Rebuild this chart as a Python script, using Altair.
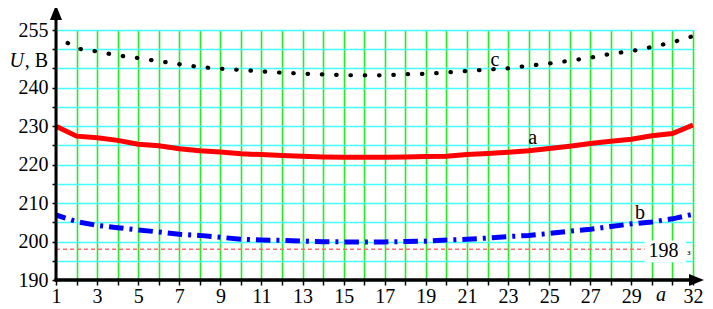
import altair as alt
import pandas as pd

# ---- data ----
x_vals = list(range(1, 33))
a_vals = [230.0, 227.4, 227.0, 226.3, 225.3, 224.9, 224.1, 223.6, 223.3, 222.8,
          222.6, 222.4, 222.2, 222.0, 221.9, 221.9, 221.9, 222.0, 222.1, 222.2,
          222.6, 222.9, 223.2, 223.6, 224.2, 224.8, 225.5, 226.1, 226.6, 227.5,
          228.1, 230.3]
b_vals = [206.9, 205.2, 204.2, 203.6, 203.0, 202.5, 201.9, 201.6, 201.1, 200.6,
          200.4, 200.3, 200.1, 199.95, 199.9, 199.9, 199.9, 200.0, 200.1, 200.4,
          200.6, 200.9, 201.3, 201.6, 202.1, 202.7, 203.2, 203.9, 204.6, 205.1,
          205.9, 207.1]
c_vals = [253.5, 250.2, 249.4, 248.4, 247.7, 246.9, 246.1, 245.35, 244.95, 244.6,
          244.25, 243.9, 243.65, 243.45, 243.25, 243.22, 243.22, 243.5, 243.6, 243.95,
          244.35, 244.7, 245.05, 245.7, 246.3, 247.0, 247.8, 248.8, 249.5, 250.6,
          251.8, 253.4]
limit_value = 198
x_tick_labels = [1, 3, 5, 7, 9, 11, 13, 15, 17, 19, 21, 23, 25, 27, 29, 32]
y_grid_values = list(range(190, 256, 5))
y_tick_labels = [190, 200, 210, 220, 230, 240, 255]

curve_labels = pd.DataFrame({
    "x": [24.2, 29.42, 22.36],
    "y": [226.9, 207.4, 247.2],
    "t": ["a", "b", "c"],
})

W, H = 637, 250
FONT = "Liberation Serif"

df = pd.DataFrame({"x": x_vals, "a": a_vals, "b": b_vals, "c": c_vals})

xs = alt.Scale(domain=[1, 32], nice=False, zero=False)
ys = alt.Scale(domain=[190, 255], nice=False, zero=False)

x_expr = "(" + " || ".join("datum.value == %d" % v for v in x_tick_labels) + ") ? datum.value : ''"
y_expr = "(" + " || ".join("datum.value == %d" % v for v in y_tick_labels) + ") ? datum.value : ''"

x_axis = alt.Axis(values=x_vals, labelExpr=x_expr, grid=True, gridColor="#22ee22",
                  gridWidth=1.6, domain=False, tickColor="black", tickWidth=1.5,
                  tickSize=5, labelFont=FONT, labelFontSize=20, labelColor="black",
                  labelPadding=1, labelOverlap=False, labelFlush=False, title=None)
y_axis = alt.Axis(values=y_grid_values, labelExpr=y_expr, grid=True, gridColor="#44ffff",
                  gridWidth=1.6, domain=False, tickColor="black", tickWidth=1.5,
                  tickSize=4, labelFont=FONT, labelFontSize=20, labelColor="black",
                  labelPadding=4, labelOverlap=False, labelFlush=False, title=None)


def X(field):
    return alt.X(field, type="quantitative", scale=xs, axis=x_axis)


def Y(field):
    return alt.Y(field, type="quantitative", scale=ys, axis=y_axis)


base = alt.Chart(df)

line_a = base.mark_line(color="#ff0000", strokeWidth=5).encode(x=X("x"), y=Y("a"))
line_b = base.mark_line(color="#0000ff", strokeWidth=5, strokeDash=[14.5, 6, 3, 6],
                        strokeDashOffset=4.5).encode(x=X("x"), y=Y("b"))
line_c = base.mark_line(color="black", strokeWidth=4.2, strokeDash=[0.5, 13.8],
                        strokeCap="round", strokeDashOffset=0.6).encode(x=X("x"), y=Y("c"))

limit_rule = alt.Chart(pd.DataFrame({"x": [1], "x2": [29.65], "y": [limit_value]})).mark_rule(
    color="#ff6a6a", strokeDash=[4, 3], strokeWidth=1.3).encode(
    x=X("x"), x2="x2:Q", y=Y("y"))
white_box = alt.Chart(pd.DataFrame({"x": [29.65], "x2": [31.65], "y": [194.6], "y2": [200.3]})).mark_rect(
    fill="white").encode(x=X("x"), x2="x2:Q", y=Y("y"), y2="y2:Q")
limit_text = alt.Chart(pd.DataFrame({"x": [30.56], "y": [197.67], "t": [str(limit_value)]})).mark_text(
    font=FONT, fontSize=20, color="black", baseline="middle", align="center").encode(
    x=X("x"), y=Y("y"), text="t:N")
small_mark = alt.Chart(pd.DataFrame({"x": [31.8], "y": [197.4], "t": ["з"]})).mark_text(
    font=FONT, fontSize=9, color="black", baseline="middle", align="center").encode(
    x=X("x"), y=Y("y"), text="t:N")

curve_text = alt.Chart(curve_labels).mark_text(
    font=FONT, fontSize=20, color="black", baseline="middle", align="center").encode(
    x=X("x"), y=Y("y"), text="t:N")

axis_letter = alt.Chart(pd.DataFrame({"x": [30.44], "t": ["a"]})).mark_text(
    font=FONT, fontSize=20, fontStyle="italic", color="black", baseline="alphabetic",
    align="center").encode(x=X("x"), y=alt.value(H + 21), text="t:N")

u_label = alt.Chart(pd.DataFrame({"t": ["U"]})).mark_text(
    font=FONT, fontSize=20, fontStyle="italic", color="black", baseline="middle",
    align="right").encode(x=alt.value(-32), y=alt.value(31), text="t:N")
unit_label = alt.Chart(pd.DataFrame({"t": [", В"]})).mark_text(
    font=FONT, fontSize=20, color="black", baseline="middle",
    align="right").encode(x=alt.value(-8), y=alt.value(31), text="t:N")

y_axis_line = alt.Chart(pd.DataFrame({"k": [0]})).mark_rule(color="black", strokeWidth=3).encode(
    x=alt.value(0), y=alt.value(-12), y2=alt.value(H + 1.5))
x_axis_line = alt.Chart(pd.DataFrame({"k": [0]})).mark_rule(color="black", strokeWidth=3.5).encode(
    x=alt.value(-1.5), x2=alt.value(641), y=alt.value(H))
up_arrow = alt.Chart(pd.DataFrame({"k": [0]})).mark_point(
    shape="M0,-1L0.8,1L-0.8,1Z", filled=True, color="black", opacity=1, size=225).encode(
    x=alt.value(0), y=alt.value(-17.5))
right_arrow = alt.Chart(pd.DataFrame({"k": [0]})).mark_point(
    shape="M1,0L-1,-0.8L-1,0.8Z", filled=True, color="black", opacity=1, size=225).encode(
    x=alt.value(640.5), y=alt.value(H))

chart = alt.layer(
    limit_rule, white_box, limit_text, small_mark, line_b, line_c, line_a,
    curve_text, axis_letter, u_label, unit_label,
    y_axis_line, x_axis_line, up_arrow, right_arrow,
).properties(
    width=W, height=H,
    autosize=alt.AutoSizeParams(type="none"),
    padding={"left": 48, "top": 22, "right": 12, "bottom": 28},
).configure_view(stroke=None)

chart.save("out.html", embed_options={"renderer": "svg", "actions": False})
